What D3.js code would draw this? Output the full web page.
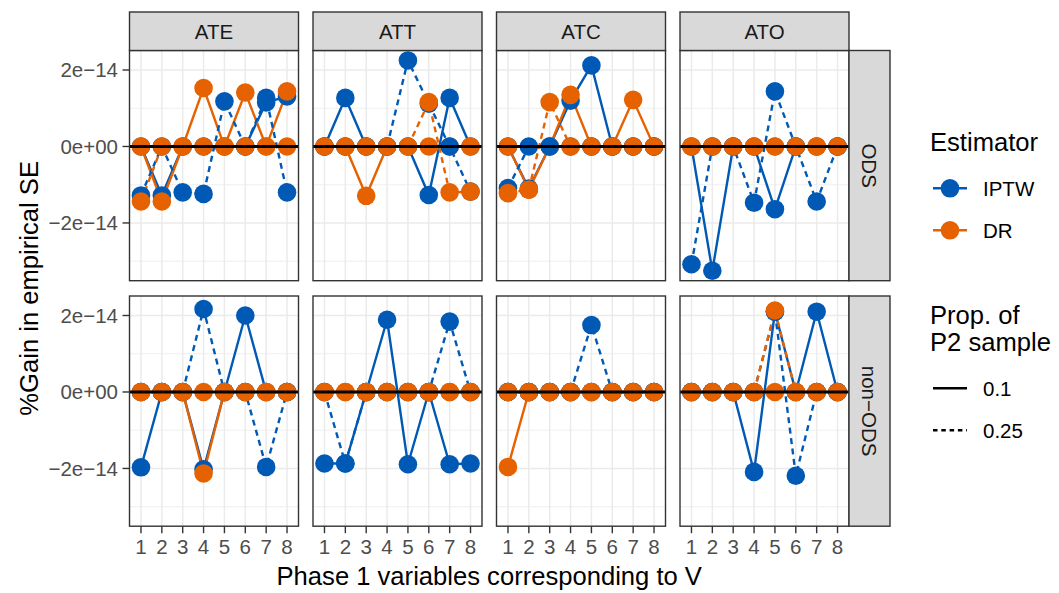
<!DOCTYPE html>
<html>
<head>
<meta charset="utf-8">
<script src="https://cdn.jsdelivr.net/npm/d3@7"></script>
<style>
  html, body { margin: 0; padding: 0; background: #fff; }
  svg text { font-family: "Liberation Sans", Arial, Helvetica, sans-serif; }
</style>
</head>
<body>
<svg id="chart" width="1059" height="593"></svg>
<script>
// ---------- data (values in units of 1e-14) ----------
const UNIT = 1e-14;
const xVars = [1, 2, 3, 4, 5, 6, 7, 8];
const estimands = ["ATE", "ATT", "ATC", "ATO"];
const designs = ["ODS", "non\u2212ODS"];
const estimators = ["IPTW", "DR"];
const propLabels = ["0.1", "0.25"];
const yTickVals = [-2, 0, 2];
const yTickLabels = ["\u22122e\u221214", "0e+00", "2e\u221214"];
const yMinorVals = [-3, -1, 1];

// rows: ATE, ATT, ATC, ATO ; columns: variables 1..8
const odsIPTW10 = [
  [0, -1.28, 0, 0, 0, 0, 1.15, 1.31],
  [0, 1.27, 0, 0, 0, -1.27, 1.27, 0],
  [0, -1.10, 0, 1.20, 2.12, 0, 0, 0],
  [0, -3.25, 0, 0, -1.64, 0, 0, 0]
];
const odsIPTW25 = [
  [-1.28, 0, -1.20, -1.24, 1.18, 0, 1.27, -1.20],
  [0, 0, 0, 0, 2.25, 1.12, 0, -1.18],
  [-1.09, 0, 0, 0, 0, 0, 0, 0],
  [-3.08, 0, 0, -1.47, 1.44, 0, -1.44, 0]
];
const odsDR10 = [
  [0, -1.44, 0, 1.53, 0, 1.41, 0, 1.44],
  [0, 0, -1.29, 0, 0, 0, 0, 0],
  [0, -1.13, 0, 1.35, 0, 0, 1.22, 0],
  [0, 0, 0, 0, 0, 0, 0, 0]
];
const odsDR25 = [
  [-1.44, 0, 0, 0, 0, 0, 0, 0],
  [0, 0, 0, 0, 0, 1.16, -1.20, -1.18],
  [-1.22, -1.13, 1.16, 0, 0, 0, 0, 0],
  [0, 0, 0, 0, 0, 0, 0, 0]
];
const nonIPTW10 = [
  [-1.97, 0, 0, -2.02, 0, 2.00, 0, 0],
  [-1.87, -1.87, 0, 1.89, -1.89, 0, -1.89, -1.87],
  [0, 0, 0, 0, 0, 0, 0, 0],
  [0, 0, 0, -2.09, 2.10, 0, 2.10, 0]
];
const nonIPTW25 = [
  [0, 0, 0, 2.17, 0, 0, -1.96, 0],
  [0, -1.87, 0, 0, 0, 0, 1.84, 0],
  [0, 0, 0, 0, 1.75, 0, 0, 0],
  [0, 0, 0, 0, 2.10, -2.19, 0, 0]
];
const nonDR10 = [
  [0, 0, 0, -2.13, 0, 0, 0, 0],
  [0, 0, 0, 0, 0, 0, 0, 0],
  [-1.96, 0, 0, 0, 0, 0, 0, 0],
  [0, 0, 0, 0, 0, 0, 0, 0]
];
const nonDR25 = [
  [0, 0, 0, 0, 0, 0, 0, 0],
  [0, 0, 0, 0, 0, 0, 0, 0],
  [0, 0, 0, 0, 0, 0, 0, 0],
  [0, 0, 0, 0, 2.13, 0, 0, 0]
];

// drawing order of groups
const seriesList = [
  { est: "IPTW", prop: "0.1",  rows: [odsIPTW10, nonIPTW10] },
  { est: "DR",   prop: "0.1",  rows: [odsDR10,   nonDR10] },
  { est: "IPTW", prop: "0.25", rows: [odsIPTW25, nonIPTW25] },
  { est: "DR",   prop: "0.25", rows: [odsDR25,   nonDR25] }
];

// ---------- layout ----------
const svg = d3.select("#chart");
svg.append("rect").attr("width", 1059).attr("height", 593).attr("fill", "#fff");

const colLeft = [129.5, 313, 496.5, 680];
const panelW = 169;
const rowTop = [50.5, 296];
const panelH = 230.2;
const stripTop = 12;
const stripRightX = 849;
const stripRightW = 41;

const color = d3.scaleOrdinal().domain(estimators).range(["#005AB5", "#E66100"]);
const dashFor = d3.scaleOrdinal().domain(propLabels).range(["none", "6,4.5"]);

const x = d3.scaleLinear().domain([0.45, 8.55]).range([0, panelW]);
const y = d3.scaleLinear().domain([-3.51 * UNIT, 2.51 * UNIT]).range([panelH, 0]);

const GRID = "#EBEBEB", BORDER = "#333333";
const FONT_SMALL = 20.5, FONT_BIG = 25.6;

const defs = svg.append("defs");
defs.append("clipPath").attr("id", "pclip")
  .append("rect").attr("width", panelW).attr("height", panelH);

const line = d3.line().x((d, i) => x(xVars[i])).y(d => y(d * UNIT));

designs.forEach((des, r) => {
  estimands.forEach((est, c) => {
    const g = svg.append("g").attr("transform", `translate(${colLeft[c]},${rowTop[r]})`);
    g.append("rect").attr("width", panelW).attr("height", panelH).attr("fill", "#fff");
    const inner = g.append("g").attr("clip-path", "url(#pclip)");
    // minor grid
    inner.selectAll(".ymin").data(yMinorVals).enter().append("line")
      .attr("x1", 0).attr("x2", panelW)
      .attr("y1", d => y(d * UNIT)).attr("y2", d => y(d * UNIT))
      .attr("stroke", GRID).attr("stroke-width", 0.8);
    // major grid
    inner.selectAll(".ymaj").data(yTickVals).enter().append("line")
      .attr("x1", 0).attr("x2", panelW)
      .attr("y1", d => y(d * UNIT)).attr("y2", d => y(d * UNIT))
      .attr("stroke", GRID).attr("stroke-width", 1.5);
    inner.selectAll(".xmaj").data(xVars).enter().append("line")
      .attr("y1", 0).attr("y2", panelH)
      .attr("x1", d => x(d)).attr("x2", d => x(d))
      .attr("stroke", GRID).attr("stroke-width", 1.5);
    // lines
    seriesList.forEach(s => {
      inner.append("path")
        .attr("d", line(s.rows[r][c]))
        .attr("fill", "none")
        .attr("stroke", color(s.est))
        .attr("stroke-width", 2.4)
        .attr("stroke-dasharray", dashFor(s.prop));
    });
    // points
    seriesList.forEach(s => {
      inner.selectAll(null).data(s.rows[r][c]).enter().append("circle")
        .attr("cx", (d, i) => x(xVars[i]))
        .attr("cy", d => y(d * UNIT))
        .attr("r", 9.3)
        .attr("fill", color(s.est));
    });
    // zero reference line
    inner.append("line")
      .attr("x1", 0).attr("x2", panelW)
      .attr("y1", y(0)).attr("y2", y(0))
      .attr("stroke", "#000").attr("stroke-width", 2.8);
    // border
    g.append("rect").attr("width", panelW).attr("height", panelH)
      .attr("fill", "none").attr("stroke", BORDER).attr("stroke-width", 1.4);

    // y axis (first column)
    if (c === 0) {
      const ya = g.append("g");
      yTickVals.forEach((v, i) => {
        ya.append("line").attr("x1", -7).attr("x2", 0)
          .attr("y1", y(v * UNIT)).attr("y2", y(v * UNIT))
          .attr("stroke", BORDER).attr("stroke-width", 1.4);
        ya.append("text").attr("x", -11.5).attr("y", y(v * UNIT))
          .attr("dy", "0.36em").attr("text-anchor", "end")
          .attr("font-size", FONT_SMALL).attr("fill", "#4D4D4D")
          .text(yTickLabels[i]);
      });
    }
    // x axis (bottom row)
    if (r === designs.length - 1) {
      const xa = g.append("g").attr("transform", `translate(0,${panelH})`);
      xVars.forEach(v => {
        xa.append("line").attr("x1", x(v)).attr("x2", x(v))
          .attr("y1", 0).attr("y2", 7)
          .attr("stroke", BORDER).attr("stroke-width", 1.4);
        xa.append("text").attr("x", x(v)).attr("y", 28)
          .attr("text-anchor", "middle")
          .attr("font-size", FONT_SMALL).attr("fill", "#4D4D4D")
          .text(v);
      });
    }
    // top strips
    if (r === 0) {
      const sg = svg.append("g").attr("transform", `translate(${colLeft[c]},${stripTop})`);
      const sh = rowTop[0] - stripTop;
      sg.append("rect").attr("width", panelW).attr("height", sh)
        .attr("fill", "#D9D9D9").attr("stroke", BORDER).attr("stroke-width", 1.4);
      sg.append("text").attr("x", panelW / 2).attr("y", sh / 2).attr("dy", "0.36em")
        .attr("text-anchor", "middle").attr("font-size", FONT_SMALL).attr("fill", "#1A1A1A")
        .text(est);
    }
  });
  // right strips
  const rg = svg.append("g").attr("transform", `translate(${stripRightX},${rowTop[r]})`);
  rg.append("rect").attr("width", stripRightW).attr("height", panelH)
    .attr("fill", "#D9D9D9").attr("stroke", BORDER).attr("stroke-width", 1.4);
  rg.append("text")
    .attr("transform", `translate(${stripRightW / 2},${panelH / 2}) rotate(90)`)
    .attr("dy", "0.36em").attr("text-anchor", "middle")
    .attr("font-size", FONT_SMALL).attr("fill", "#1A1A1A")
    .text(des);
});

// axis titles
svg.append("text").attr("x", (colLeft[0] + colLeft[3] + panelW) / 2).attr("y", 585)
  .attr("text-anchor", "middle").attr("font-size", FONT_BIG).attr("fill", "#000")
  .text("Phase 1 variables corresponding to V");
svg.append("text")
  .attr("transform", `translate(38,${(rowTop[0] + rowTop[1] + panelH) / 2}) rotate(-90)`)
  .attr("text-anchor", "middle").attr("font-size", FONT_BIG).attr("fill", "#000")
  .text("%Gain in empirical SE");

// legend
const lg = svg.append("g");
lg.append("text").attr("x", 930).attr("y", 151).attr("font-size", FONT_BIG).text("Estimator");
estimators.forEach((e, i) => {
  const yy = 188.3 + i * 42;
  lg.append("line").attr("x1", 933).attr("x2", 967).attr("y1", yy).attr("y2", yy)
    .attr("stroke", color(e)).attr("stroke-width", 2.4);
  lg.append("circle").attr("cx", 950).attr("cy", yy).attr("r", 9.3).attr("fill", color(e));
  lg.append("text").attr("x", 983).attr("y", yy).attr("dy", "0.36em")
    .attr("font-size", FONT_SMALL).attr("fill", "#000").text(e);
});
lg.append("text").attr("x", 930).attr("y", 324).attr("font-size", FONT_BIG).text("Prop. of");
lg.append("text").attr("x", 930).attr("y", 351).attr("font-size", FONT_BIG).text("P2 sample");
propLabels.forEach((p, i) => {
  const yy = 388.3 + i * 42;
  lg.append("line").attr("x1", 933).attr("x2", 967).attr("y1", yy).attr("y2", yy)
    .attr("stroke", "#000").attr("stroke-width", 2.4)
    .attr("stroke-dasharray", p === "0.25" ? "4.5,3.8" : "none");
  lg.append("text").attr("x", 983).attr("y", yy).attr("dy", "0.36em")
    .attr("font-size", FONT_SMALL).attr("fill", "#000").text(p);
});
</script>
</body>
</html>
